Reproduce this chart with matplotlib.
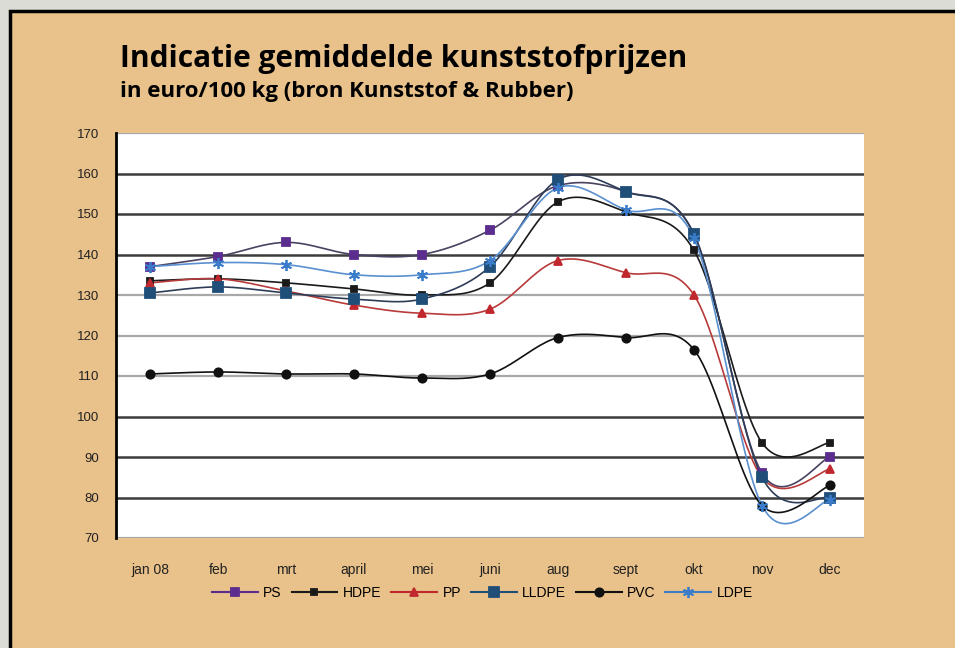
#Imports
import numpy as np
import matplotlib.pyplot as plt
from matplotlib.patches import Rectangle

#Data (euro/100 kg)
months = ['jan 08', 'feb', 'mrt', 'april', 'mei', 'juni', 'aug', 'sept', 'okt', 'nov', 'dec']
ps = [137, 139.5, 143, 140, 140, 146, 157, 155.5, 145, 86, 90]
hdpe = [133.5, 134, 133, 131.5, 130, 133, 153, 150.5, 141, 93.5, 93.5]
pp = [133, 134, 131, 127.5, 125.5, 126.5, 138.5, 135.5, 130, 85, 87]
lldpe = [130.5, 132, 130.5, 129, 129, 137, 158.5, 155.5, 145, 85, 80]
pvc = [110.5, 111, 110.5, 110.5, 109.5, 110.5, 119.5, 119.5, 116.5, 78, 83]
ldpe = [137, 138, 137.5, 135, 135, 138.5, 156.5, 151, 144, 78, 79.5]

#Series styles: (label, values, marker colour, line colour in plot, marker, markersize)
series = [
    ('PS', ps, '#5b2d8e', '#4a4260', 's', 6),
    ('HDPE', hdpe, '#1a1a1a', '#1a1a1a', 's', 4.5),
    ('PP', pp, '#c0282d', '#b83a3a', '^', 6),
    ('LLDPE', lldpe, '#1f4e79', '#2d3d58', 's', 6.5),
    ('PVC', pvc, '#111111', '#111111', 'o', 6),
    ('LDPE', ldpe, '#3a7cc9', '#5a90cf', (6, 2, 0), 8),
]

#Excel-style smoothed line (Catmull-Rom through the data points)
def smooth(xs, ys, n=24):
    xs, ys = np.asarray(xs, float), np.asarray(ys, float)
    px = np.r_[xs[0], xs, xs[-1]]
    py = np.r_[ys[0], ys, ys[-1]]
    t = np.linspace(0, 1, n)[:, None]
    outx, outy = [], []
    for i in range(1, len(px) - 2):
        for p, out in ((px, outx), (py, outy)):
            p0, p1, p2, p3 = p[i-1], p[i], p[i+1], p[i+2]
            seg = 0.5 * (2*p1 + (-p0 + p2)*t + (2*p0 - 5*p1 + 4*p2 - p3)*t**2
                         + (-p0 + 3*p1 - 3*p2 + p3)*t**3)
            out.append(seg.ravel())
    return np.concatenate(outx), np.concatenate(outy)

#Figure with the tan panel
fig = plt.figure(figsize=(9.55, 6.48), dpi=100)
fig.patch.set_facecolor('#dcdcd6')
fig.patches.append(Rectangle((10/955, -0.05), 1.0, 1 - 11/648 + 0.05, transform=fig.transFigure,
                             facecolor='#e9c18a', edgecolor='black', linewidth=2.5, zorder=-5))

fig.text(120/955, 1 - 59/648, 'Indicatie gemiddelde kunststofprijzen', fontsize=21.5,
         fontweight='bold', family='Open Sans', va='center')
fig.text(120/955, 1 - 91/648, 'in euro/100 kg (bron Kunststof & Rubber)', fontsize=16,
         fontweight='bold', family='Open Sans', va='center')

ax = fig.add_axes([116/955, 110/648, 748/955, 405/648])
ax.set_facecolor('white')
x = np.arange(len(months))
for label, vals, col, lcol, mk, ms in series:
    sx, sy = smooth(x, vals)
    ax.plot(sx, sy, color=lcol, lw=1.2, zorder=3)
    ax.plot(x, vals, linestyle='none', marker=mk, color=col, markersize=ms, mew=1.3, zorder=4)
    ax.plot([], [], color=col, marker=mk, markersize=ms, mew=1.3, lw=1.5, label=label)

#Axes styling
ax.set_xlim(-0.5, len(months) - 0.5)
ax.set_ylim(70, 170)
yticks = list(range(70, 171, 10))
ax.set_yticks(yticks)
ax.set_xticks(x)
ax.set_xticklabels(months)
#gridlines: the middle band is drawn lighter in the original
for yv in yticks:
    light = yv in (70, 110, 120, 130, 170)
    ax.axhline(yv, color='#a8a8a8' if light else '#3c3c3c', lw=1.6 if light else 1.8, zorder=1)
for s in ['top', 'right', 'bottom']:
    ax.spines[s].set_visible(False)
ax.spines['left'].set_linewidth(2)
ax.tick_params(length=0, colors='#222222')
ax.tick_params(axis='y', pad=12, labelsize=9.5)
ax.tick_params(axis='x', pad=18, labelsize=10)
for lab in ax.get_xticklabels() + ax.get_yticklabels():
    lab.set_family('Liberation Sans')

leg = ax.legend(loc='center', bbox_to_anchor=(0.49, -0.136), ncol=6, frameon=False,
                handlelength=3.3, handletextpad=0.4, columnspacing=0.7,
                prop={'family': 'Liberation Sans', 'size': 10})

fig.savefig('out.png', dpi=100, facecolor=fig.get_facecolor())
